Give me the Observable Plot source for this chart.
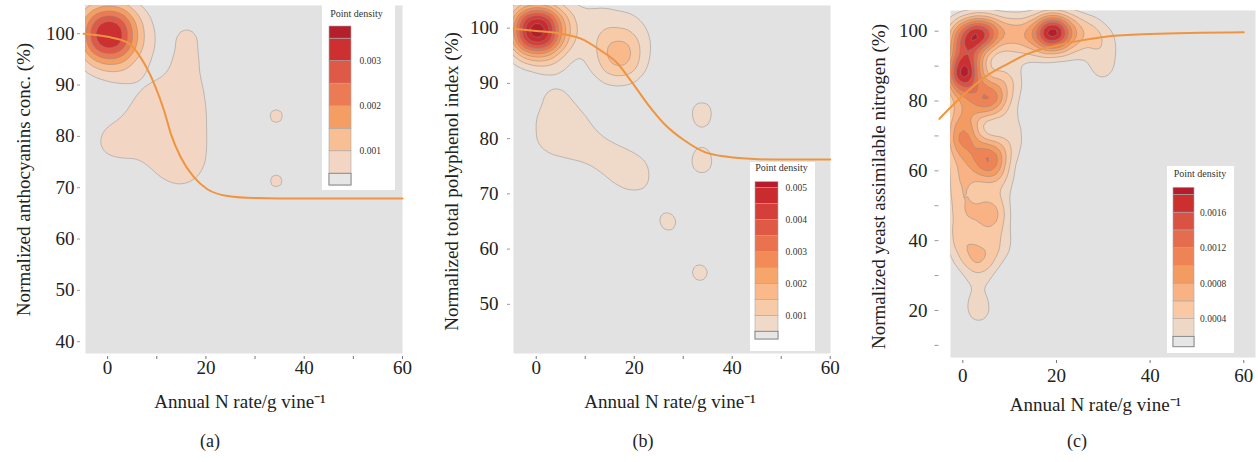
<!DOCTYPE html>
<html><head><meta charset="utf-8">
<script src="https://cdn.jsdelivr.net/npm/d3@7"></script>
<script src="https://cdn.jsdelivr.net/npm/@observablehq/plot@0.6"></script>
<style>
body{margin:0;background:#fff;}
#root{position:relative;width:1258px;height:462px;overflow:hidden;font-family:"Liberation Serif",serif;}
#root > svg{position:absolute;top:0;overflow:visible;}
.legend{position:absolute;background:#fff;}
.legend svg{position:absolute;left:0;top:0;}
.ltitle{position:absolute;left:0;right:0;text-align:center;font:10px "Liberation Serif",serif;color:#333;white-space:nowrap;}
.cap{position:absolute;top:431px;font:18px "Liberation Serif",serif;color:#222;transform:translateX(-50%);}
</style></head><body><div id="root"></div>
<script>
// ---------------- data ----------------
const xTicks = [0, 20, 40, 60];
const xTickMarksAB = [0, 10, 20, 30, 40, 50, 60];
const xTickMarksC = [0, 20, 40, 60];
const yTicksA = [40, 50, 60, 70, 80, 90, 100];
const yTicksB = [50, 60, 70, 80, 90, 100];
const yTicksC = [20, 40, 60, 80, 100];
const yTickMarksC = [10, 20, 30, 40, 50, 60, 70, 80, 90, 100];

const xLabel = "Annual N rate/g vine⁻¹";
const yLabelA = "Normalized anthocyanins conc. (%)";
const yLabelB = "Normalized total polyphenol index (%)";
const yLabelC = "Normalized yeast assimilable nitrogen (%)";
const captions = ["(a)", "(b)", "(c)"];
const legendTitle = "Point density";

// fitted curves
const curveAx = [-4.9, 0, 4, 6.7, 9.5, 11.5, 12.9, 14.9, 17.6, 20.3, 24.4, 29.9, 40, 50, 60];
const curveAy = [100, 99.4, 98.3, 95.4, 90.2, 85, 80.4, 75.9, 72, 69.7, 68.4, 68, 67.9, 67.9, 67.9];
const curveBx = [-4.6, 0, 5, 9.1, 13.1, 16.6, 19.3, 22.7, 26.1, 30.2, 34.3, 39, 44.5, 50, 60];
const curveBy = [99.9, 99.5, 99, 98.1, 96, 93.6, 90.5, 86.3, 82.7, 79.7, 77.6, 76.7, 76.3, 76.2, 76.2];
const curveCx = [-5, -2.6, 0, 2.4, 5.2, 9.5, 13.8, 20, 25.1, 30.9, 40, 60];
const curveCy = [74.9, 78.2, 81.6, 84.4, 87.3, 90.6, 93.5, 95.9, 97.3, 98.5, 99.2, 99.7];

// observations behind the density contours: [x, y, weight]
const densityA = [
  [0.3, 99.9, 0.40], [3, 91, 0.03],
  [16, 102, 0.035], [16.2, 97, 0.028], [16.2, 93, 0.022],
  [12.5, 89, 0.015], [17, 89, 0.015],
  [8, 86, 0.015], [11.5, 85.5, 0.013], [15, 85.5, 0.013], [18.5, 86, 0.015],
  [7, 82.5, 0.015], [10.5, 82, 0.013], [14, 82, 0.013], [18, 82, 0.015],
  [0.8, 78.8, 0.06],
  [9.5, 78.5, 0.015], [13.5, 78.5, 0.013], [17.5, 78.5, 0.015],
  [10.5, 75, 0.015], [14.5, 75, 0.013], [18, 75, 0.015],
  [12.5, 72, 0.018], [17.5, 72, 0.018],
  [34.3, 84, 0.059], [34.3, 71.3, 0.059]
];
const densityB = [
  [0.1, 99.6, 0.42], [17, 94.8, 0.13],
  [8, 101.5, 0.022], [12, 101, 0.022], [16, 101.5, 0.02], [21, 100.5, 0.022], [7.5, 96, 0.015],
  [3, 90.5, 0.023],
  [2, 85, 0.013], [5, 85.5, 0.013], [9, 85.5, 0.013],
  [1, 81.5, 0.013], [5, 81.5, 0.013], [9, 81.5, 0.013],
  [1, 78, 0.013], [5, 78, 0.013], [9, 78, 0.013],
  [12.5, 78, 0.02], [15.5, 76, 0.02], [18.5, 74.3, 0.022], [21, 73.2, 0.03],
  [33.8, 84.8, 0.045], [33.8, 75.6, 0.045], [26.9, 64.9, 0.0425], [33.4, 55.7, 0.0432]
];
const densityC = [
  [4.3, 99.3, 0.075], [0.2, 98.8, 0.055], [-0.1, 93.5, 0.03], [-0.1, 89, 0.05], [-0.1, 85.5, 0.05],
  [19.1, 99.8, 0.1], [9, 100, 0.02], [12.5, 100, 0.02], [15, 100, 0.01],
  [23.5, 100.5, 0.02], [27, 100, 0.015], [30, 97.5, 0.012], [29.8, 92.5, 0.01], [29.8, 88, 0.009],
  [12, 95.5, 0.012], [17, 94.5, 0.012], [23, 95, 0.012],
  [5.5, 82.5, 0.035], [5.5, 79, 0.035], [2.5, 91, 0.02], [9, 88, 0.015], [10, 83, 0.012],
  [-0.1, 79, 0.02], [-0.1, 75, 0.02], [-0.1, 70.5, 0.03], [-0.1, 67.5, 0.025],
  [5.6, 65.5, 0.04], [5.6, 61, 0.04], [10.5, 67, 0.012], [11, 74, 0.01],
  [-0.3, 62, 0.022], [-0.3, 56.5, 0.022], [0, 51, 0.02], [8, 57, 0.012],
  [6, 50, 0.024], [6, 45.5, 0.024], [0, 46, 0.016], [-0.5, 41, 0.018], [1, 36, 0.018], [4.5, 35.5, 0.018], [7.5, 39, 0.015],
  [3.5, 31, 0.01], [3.1, 25, 0.006], [3.3, 21.5, 0.006], [3.4, 18.5, 0.009]
];

// contour levels (point density) and legend ranges
const levelsA = [0.0005, 0.001, 0.0015, 0.002, 0.0025, 0.003, 0.0035];
const levelsB = [0.0005, 0.001, 0.0015, 0.002, 0.0025, 0.003, 0.0035, 0.004, 0.0045, 0.005];
const levelsC = [0.0002, 0.0004, 0.0006, 0.0008, 0.001, 0.0012, 0.0014, 0.0016, 0.0018];
const legendRangeA = [0.00024, 0.00377];
const legendRangeB = [0.00026, 0.00518];
const legendRangeC = [0.000084, 0.00188];
const legendTicksA = [0.001, 0.002, 0.003];
const legendTicksB = [0.001, 0.002, 0.003, 0.004, 0.005];
const legendTicksC = [0.0004, 0.0008, 0.0012, 0.0016];

// ---------------- styles ----------------
const SERIF = "'Liberation Serif', 'Times New Roman', serif";
const BG = "#e2e2e2";
const colorsA = ["#f2d6c3", "#f8bf95", "#f59e63", "#eb7b55", "#de5a47", "#cc3030", "#b51f2b"];
const colorsB = ["#efd9c9", "#f7caa8", "#f9b98b", "#f7a66b", "#f28b58", "#e9734f", "#df5a45", "#d43f3a", "#c92b2e", "#b61d2a"];
const colorsC = ["#efd7c6", "#f8c9a4", "#f8b283", "#f49b61", "#ee8456", "#e46d4e", "#da5243", "#cb2f30", "#b51d2a"];

const root = document.getElementById("root");

function makePanel(c) {
  const iw = c.width - c.ml - c.mr, ih = c.height - c.mt - c.mb;
  const sx = iw / (c.xd[1] - c.xd[0]), sy = ih / (c.yd[1] - c.yd[0]);
  const T = c.levels.map(L => 100 * L / (sx * sy));
  const dens = c.points.map(([x, y, w]) => ({x, y, w}));
  const curve = c.cx.map((x, i) => ({x, y: c.cy[i]}));
  const svg = Plot.plot({
    width: c.width, height: c.height,
    marginLeft: c.ml, marginRight: c.mr, marginTop: c.mt, marginBottom: c.mb,
    x: {domain: c.xd}, y: {domain: c.yd},
    color: {type: "threshold", domain: T, range: [BG, ...c.colors]},
    style: {fontFamily: SERIF, color: "#222", background: "transparent", overflow: "visible"},
    marks: [
      Plot.frame({fill: BG, stroke: "none"}),
      Plot.density(dens, {x: "x", y: "y", weight: "w", bandwidth: c.bw, thresholds: T,
        fill: "density", stroke: "#8a8a8a", strokeOpacity: 0.6, strokeWidth: 0.8, clip: true}),
      Plot.line(curve, {x: "x", y: "y", stroke: "#ef9441", strokeWidth: 2, curve: "monotone-x"}),
      Plot.axisX({ticks: c.xMarks, tickSize: 3, dy: 3, tickFormat: () => "", label: null, stroke: "#777"}),
      Plot.axisX({ticks: xTicks, tickSize: 0, tickPadding: c.xPad, label: null, fontSize: 19, fontFamily: SERIF, fill: "#222"}),
      Plot.axisY({ticks: c.yMarks, tickSize: c.yTs, dx: -c.yGap, tickFormat: () => "", label: null, stroke: "#999"}),
      Plot.axisY({ticks: c.yTicks, tickSize: 0, dx: -c.yGap, tickPadding: c.yTs + c.yPad, label: null, fontSize: 19, fontFamily: SERIF, fill: "#222"}),
      Plot.text([xLabel], {frameAnchor: "bottom", dy: c.xlDy, dx: c.xlDx, fontSize: 19, fontFamily: SERIF, fill: "#222", lineAnchor: "middle", textAnchor: "middle"}),
      Plot.text([c.yLabel], {frameAnchor: "left", rotate: -90, dx: c.ylDx, dy: c.ylDy, fontSize: 19, fontFamily: SERIF, fill: "#222", textAnchor: "middle", lineAnchor: "middle"})
    ]
  });
  svg.style.left = c.left + "px";
  root.appendChild(svg);
}

function makeLegend(c) {
  const box = document.createElement("div");
  box.className = "legend";
  Object.assign(box.style, {left: c.left + "px", top: c.top + "px", width: c.w + "px", height: c.h + "px"});
  const bounds = [c.range[0], ...c.levels, c.range[1]];
  const bands = d3.pairs(bounds).map(([lo, hi], i) => ({lo, hi, fill: i === 0 ? "#e6e6e6" : c.colors[i - 1]}));
  const svg = Plot.plot({
    width: c.w, height: c.h,
    marginTop: c.barTop, marginBottom: c.h - c.barBottom, marginLeft: 0, marginRight: 0,
    x: {domain: [0, 1], range: [c.barX0, c.barX1], axis: null},
    y: {domain: c.range, axis: null},
    style: {fontFamily: SERIF, background: "transparent", overflow: "visible"},
    marks: [
      Plot.rect(bands, {x1: 0, x2: 1, y1: "lo", y2: "hi", fill: "fill", stroke: "#a8a8a8", strokeWidth: 0.6}),
      Plot.rect(bands.slice(0, 1), {x1: 0, x2: 1, y1: "lo", y2: "hi", fill: "fill", stroke: "#8a8a8a", strokeWidth: 1}),
      Plot.text(c.ticks, {x: 1, y: d => d, text: d => d3.format(c.fmt)(d), dx: c.labelDx, textAnchor: "start", fontSize: 9.5, fontFamily: SERIF, fill: "#333"})
    ]
  });
  box.appendChild(svg);
  const t = document.createElement("div");
  t.className = "ltitle";
  t.textContent = legendTitle;
  t.style.top = (c.titleY - 6) + "px";
  t.style.left = c.titleDx + "px";
  box.appendChild(t);
  root.appendChild(box);
}

makePanel({left: 0, width: 420, height: 420, ml: 85, mr: 18, mt: 5, mb: 67,
  xd: [-4.5, 60], yd: [37.7, 105.5], points: densityA, bw: 18.5, levels: levelsA, colors: colorsA,
  cx: curveAx, cy: curveAy, xMarks: xTickMarksAB, xPad: 7, yMarks: yTicksA, yTicks: yTicksA,
  yTs: 3, yGap: 5, yPad: 3, xlDy: 48, xlDx: -4, yLabel: yLabelA, ylDx: -62, ylDy: 0});
makePanel({left: 420, width: 430, height: 420, ml: 93, mr: 20, mt: 5, mb: 67,
  xd: [-4.64, 60.06], yd: [41.1, 104.1], points: densityB, bw: 16, levels: levelsB, colors: colorsB,
  cx: curveBx, cy: curveBy, xMarks: xTickMarksAB, xPad: 7, yMarks: yTicksB, yTicks: yTicksB,
  yTs: 3, yGap: 3, yPad: 9, xlDy: 48, xlDx: -2, yLabel: yLabelB, ylDx: -62, ylDy: 2});
makePanel({left: 850, width: 408, height: 420, ml: 100, mr: 3, mt: 10, mb: 63,
  xd: [-2.63, 62.5], yd: [6.53, 105.93], points: densityC, bw: 10, levels: levelsC, colors: colorsC,
  cx: curveCx, cy: curveCy, xMarks: xTickMarksC, xPad: 11, yMarks: yTickMarksC, yTicks: yTicksC,
  yTs: 4, yGap: 11.5, yPad: 7.5, xlDy: 47, xlDx: -7.5, yLabel: yLabelC, ylDx: -71.5, ylDy: 2.5});

makeLegend({left: 322, top: 3, w: 73, h: 187, barTop: 23, barBottom: 182, barX0: 7, barX1: 29,
  range: legendRangeA, levels: levelsA, colors: colorsA, ticks: legendTicksA, fmt: ".3f", labelDx: 8, titleY: 11, titleDx: -4});
makeLegend({left: 750, top: 162, w: 65, h: 189, barTop: 19.7, barBottom: 177, barX0: 5, barX1: 28,
  range: legendRangeB, levels: levelsB, colors: colorsB, ticks: legendTicksB, fmt: ".3f", labelDx: 7, titleY: 6, titleDx: -2});
makeLegend({left: 1167, top: 166, w: 67, h: 187, barTop: 21.3, barBottom: 180.7, barX0: 6, barX1: 27,
  range: legendRangeC, levels: levelsC, colors: colorsC, ticks: legendTicksC, fmt: ".4f", labelDx: 5.5, titleY: 7.5, titleDx: -1});

[210, 643, 1077].forEach((x, i) => {
  const d = document.createElement("div");
  d.className = "cap";
  d.style.left = x + "px";
  d.textContent = captions[i];
  root.appendChild(d);
});
</script></body></html>
